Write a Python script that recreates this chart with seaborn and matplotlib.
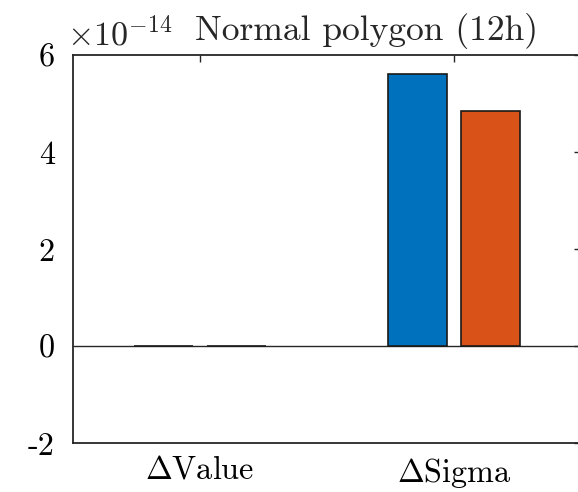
import matplotlib
matplotlib.use("Agg")
import matplotlib.pyplot as plt
import seaborn as sns
import pandas as pd

# Data
metrics = ["$\\Delta$Value", "$\\Delta$Sigma"]
series_names = ["A", "B"]
series_a = [0.0, 5.60e-14]
series_b = [0.0, 4.84e-14]
scale_exp = -14
y_ticks = [-2, 0, 2, 4, 6]
y_tick_labels = ["-2", "0", "2", "4", "6"]
title = "Normal polygon (12h)"

sns.set_style("white")
plt.rcParams["font.family"] = ["cmr10", "DejaVu Serif"]
plt.rcParams["mathtext.fontset"] = "cm"
plt.rcParams["axes.unicode_minus"] = False
plt.rcParams["axes.formatter.use_mathtext"] = True

scale = 10.0 ** scale_exp
df = pd.DataFrame({
    "metric": metrics * 2,
    "series": [series_names[0]] * len(metrics) + [series_names[1]] * len(metrics),
    "value": [v / scale for v in series_a + series_b],
})

fig = plt.figure(figsize=(5.78, 4.92), dpi=100)
ax = fig.add_axes([73 / 578, 1 - 443 / 492, 508 / 578, 388 / 492])

sns.barplot(data=df, x="metric", y="value", hue="series",
            palette=["#0072BD", "#D95319"], saturation=1,
            edgecolor="#1a1a1a", linewidth=1.2, width=0.572, gap=0.19,
            legend=False, ax=ax, errorbar=None)

ax.axhline(0, color="#262626", lw=1.0, zorder=0.5)
ax.set_xlim(-0.5, 1.5)
ax.set_ylim(-2, 6)
ax.set_yticks(y_ticks)
ax.set_yticklabels(y_tick_labels)
ax.set_xlabel("")
ax.set_ylabel("")

for s in ax.spines.values():
    s.set_visible(True)
    s.set_color("#262626")
    s.set_linewidth(1.3)

ax.tick_params(axis="both", which="both", direction="in", length=5,
               width=1.0, color="#262626", top=True, right=True,
               labelsize=23.2, labelcolor="black")
ax.tick_params(axis="y", pad=13)
ax.tick_params(axis="x", pad=9)

ax.text(-6 / 508, 1.012, "$\\times10^{%d}$" % scale_exp, transform=ax.transAxes,
        ha="left", va="bottom", fontsize=24.5)
ax.text(0.577, 1.015, title, transform=ax.transAxes, ha="center",
        va="bottom", fontsize=25.6)

fig.savefig("out.png", dpi=100)
